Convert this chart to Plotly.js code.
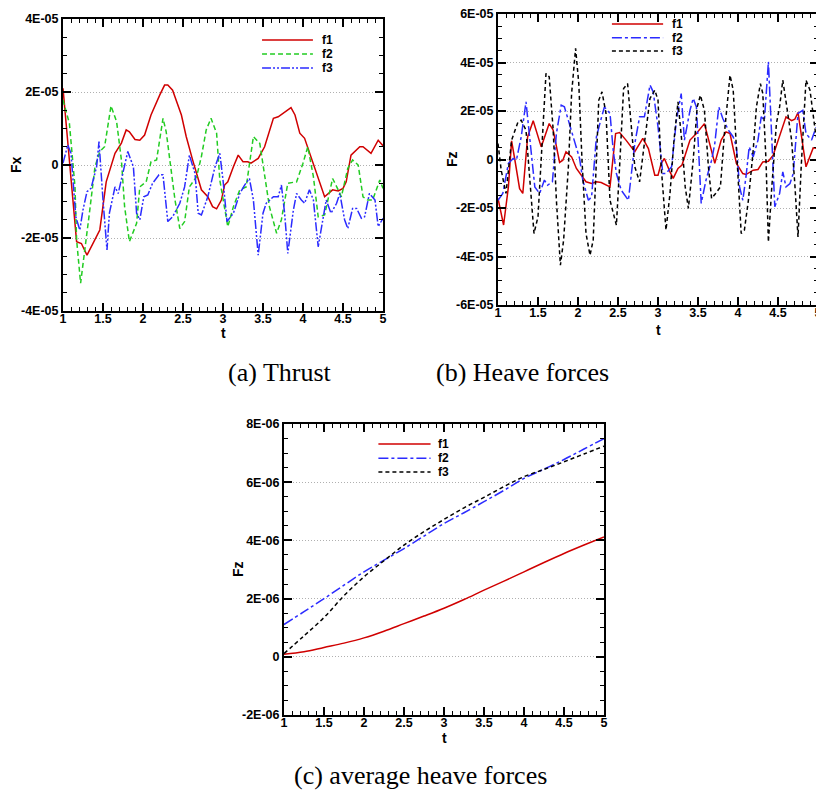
<!DOCTYPE html>
<html>
<head>
<meta charset="utf-8">
<script src="https://cdn.plot.ly/plotly-3.0.1.min.js"></script>
<style>
html,body{margin:0;padding:0;overflow:hidden;background:#fff;}
#chart{width:830px;height:796px;}
</style>
</head>
<body>
<div id="chart"></div>
<script>
// ---------- (a) Thrust ----------
const aT1 = [1,1.17,1.23,1.3,1.46,1.54,1.65,1.73,1.79,1.83,1.9,1.96,2.02,2.1,2.21,2.27,2.31,2.37,2.48,2.54,2.62,2.73,2.81,2.87,2.92,2.98,3.02,3.06,3.13,3.19,3.25,3.31,3.35,3.44,3.52,3.63,3.69,3.75,3.85,3.9,3.96,4.02,4.1,4.19,4.27,4.37,4.44,4.5,4.54,4.6,4.71,4.75,4.85,4.94,5];
const aF1 = [2.1e-5,-2.1e-5,-2.15e-5,-2.47e-5,-1.78e-5,-0.46e-5,0.32e-5,0.6e-5,0.96e-5,0.91e-5,0.7e-5,0.68e-5,0.82e-5,1.37e-5,1.92e-5,2.19e-5,2.19e-5,2.05e-5,1.37e-5,0.78e-5,0.14e-5,-0.68e-5,-0.87e-5,-1.14e-5,-1.2e-5,-0.96e-5,-0.55e-5,-0.46e-5,-0.05e-5,0.27e-5,0.09e-5,0.09e-5,0.05e-5,0.18e-5,0.5e-5,1.28e-5,1.32e-5,1.42e-5,1.57e-5,1.37e-5,0.87e-5,0.73e-5,0.23e-5,-0.32e-5,-0.87e-5,-0.68e-5,-0.71e-5,-0.64e-5,-0.46e-5,0.27e-5,0.5e-5,0.5e-5,0.32e-5,0.68e-5,0.53e-5];
const aT2 = [1,1.08,1.15,1.17,1.22,1.27,1.33,1.4,1.46,1.52,1.6,1.67,1.73,1.77,1.83,1.92,1.96,2.04,2.1,2.17,2.25,2.29,2.35,2.4,2.46,2.52,2.58,2.67,2.73,2.79,2.85,2.92,2.96,3.06,3.13,3.21,3.29,3.38,3.46,3.52,3.58,3.67,3.73,3.81,3.92,4.0,4.06,4.13,4.19,4.27,4.37,4.44,4.48,4.56,4.62,4.69,4.75,4.81,4.87,4.96,5];
const aF2 = [1.78e-5,1.14e-5,-0.6e-5,-2.05e-5,-3.24e-5,-2.42e-5,-1.32e-5,-0.05e-5,0.37e-5,0.5e-5,1.62e-5,1.19e-5,0.14e-5,-1.14e-5,-2.1e-5,-1.6e-5,-0.6e-5,-0.46e-5,0.09e-5,0.14e-5,1.28e-5,0.91e-5,-0.05e-5,-0.96e-5,-1.74e-5,-1.55e-5,-0.6e-5,-0.32e-5,0.23e-5,0.96e-5,1.28e-5,0.87e-5,-0.41e-5,-1.69e-5,-1.14e-5,-0.68e-5,-0.6e-5,0.78e-5,0.59e-5,-0.23e-5,-1.14e-5,-1.87e-5,-1.5e-5,-0.5e-5,-0.46e-5,0.05e-5,0.5e-5,-0.32e-5,-1.42e-5,-1.37e-5,-0.37e-5,-0.68e-5,-0.87e-5,-0.09e-5,0.14e-5,0,-0.87e-5,-0.96e-5,-0.96e-5,-0.41e-5,-0.64e-5];
const aT3 = [1,1.06,1.1,1.16,1.21,1.25,1.3,1.35,1.42,1.45,1.5,1.55,1.58,1.65,1.69,1.75,1.81,1.88,1.92,1.96,2.01,2.06,2.12,2.2,2.25,2.31,2.37,2.46,2.52,2.58,2.65,2.69,2.73,2.81,2.9,2.96,3.0,3.05,3.13,3.21,3.27,3.33,3.38,3.44,3.5,3.54,3.63,3.69,3.73,3.77,3.81,3.88,3.92,3.98,4.02,4.08,4.13,4.19,4.25,4.29,4.35,4.42,4.46,4.52,4.56,4.62,4.67,4.73,4.77,4.83,4.9,4.94,5];
const aF3 = [0.05e-5,0.55e-5,0.32e-5,-1.42e-5,-1.78e-5,-1.23e-5,-0.73e-5,-0.64e-5,-0.05e-5,0.64e-5,-0.96e-5,-2.33e-5,-1.32e-5,-0.6e-5,-0.78e-5,-0.23e-5,0.37e-5,-0.05e-5,-1.32e-5,-1.5e-5,-0.87e-5,-0.82e-5,-0.5e-5,-0.27e-5,-0.27e-5,-1.55e-5,-1.42e-5,-1.05e-5,-0.6e-5,0.27e-5,-0.23e-5,-1.32e-5,-1.37e-5,-0.87e-5,-0.05e-5,0.32e-5,-0.41e-5,-1.55e-5,-1.32e-5,-0.78e-5,-0.55e-5,-0.37e-5,-0.96e-5,-2.47e-5,-1.32e-5,-1.05e-5,-0.87e-5,-0.87e-5,-0.55e-5,-1.32e-5,-2.42e-5,-1.23e-5,-0.78e-5,-0.96e-5,-1.05e-5,-0.68e-5,-0.96e-5,-2.24e-5,-1.5e-5,-0.96e-5,-1.32e-5,-1.05e-5,-0.78e-5,-1.5e-5,-1.74e-5,-1.19e-5,-1.19e-5,-1.46e-5,-1.42e-5,-0.78e-5,-0.96e-5,-1.69e-5,-1.46e-5];

// ---------- (b) Heave forces ----------
const bT1 = [1,1.07,1.13,1.17,1.21,1.27,1.31,1.37,1.44,1.54,1.64,1.69,1.77,1.81,1.85,1.92,1.98,2.1,2.17,2.23,2.29,2.4,2.47,2.52,2.6,2.71,2.81,2.88,2.96,3.0,3.04,3.08,3.15,3.19,3.25,3.3,3.4,3.48,3.58,3.71,3.79,3.85,3.9,3.98,4.06,4.1,4.19,4.25,4.31,4.38,4.44,4.52,4.6,4.67,4.71,4.75,4.85,4.94,5];
const bF1 = [-1.6e-5,-2.7e-5,-1.13e-5,0.77e-5,0,-1.2e-5,-1.4e-5,0.93e-5,1.6e-5,0.52e-5,1.48e-5,1.21e-5,-0.12e-5,-0.03e-5,0.32e-5,0.11e-5,-0.37e-5,-0.92e-5,-0.99e-5,-0.92e-5,-0.95e-5,-1.13e-5,1.07e-5,1.11e-5,0.8e-5,0.32e-5,0.87e-5,0.45e-5,-0.65e-5,-0.65e-5,-0.16e-5,0.04e-5,-0.51e-5,-0.78e-5,-0.37e-5,-0.23e-5,0.8e-5,1.07e-5,1.48e-5,-0.16e-5,0.8e-5,1.14e-5,1.07e-5,-0.16e-5,-0.58e-5,-0.62e-5,-0.44e-5,-0.41e-5,-0.1e-5,-0.07e-5,0.18e-5,0.93e-5,1.76e-5,1.6e-5,1.66e-5,1.94e-5,-0.3e-5,0.48e-5,0.45e-5];
const bT2 = [1,1.06,1.13,1.19,1.23,1.29,1.35,1.42,1.46,1.52,1.58,1.62,1.68,1.73,1.79,1.83,1.92,2.02,2.06,2.13,2.17,2.23,2.29,2.33,2.4,2.44,2.48,2.54,2.63,2.71,2.77,2.83,2.9,2.94,3.0,3.06,3.1,3.17,3.23,3.29,3.33,3.4,3.44,3.48,3.52,3.54,3.6,3.67,3.71,3.76,3.81,3.88,3.94,3.98,4.02,4.06,4.1,4.14,4.19,4.25,4.29,4.33,4.38,4.42,4.46,4.52,4.56,4.6,4.65,4.69,4.75,4.81,4.85,4.92,4.97,5];
const bF2 = [-1.68e-5,-1.4e-5,-0.16e-5,0.04e-5,-0.03e-5,0.93e-5,2.38e-5,-0.03e-5,-1.13e-5,-1.4e-5,-0.85e-5,-1.06e-5,-0.92e-5,1.07e-5,2.24e-5,2.17e-5,1.14e-5,0.04e-5,-0.85e-5,-1.68e-5,-1.54e-5,0.93e-5,1.69e-5,2.17e-5,1.9e-5,0.38e-5,-0.58e-5,-1.26e-5,-1.68e-5,0.66e-5,1.76e-5,1.76e-5,3.07e-5,2.79e-5,1.35e-5,-0.58e-5,-0.58e-5,-0.3e-5,1.62e-5,2.72e-5,0.8e-5,2.03e-5,2.52e-5,2.17e-5,-0.44e-5,-1.81e-5,-0.85e-5,-0.03e-5,0.66e-5,2.17e-5,1.69e-5,1.21e-5,0.93e-5,0.52e-5,-1.13e-5,-1.68e-5,-0.71e-5,0.52e-5,0.11e-5,0.8e-5,1.76e-5,1.62e-5,4.03e-5,1.07e-5,-1.95e-5,-1.4e-5,-0.51e-5,-1.13e-5,-0.99e-5,-0.58e-5,1.9e-5,2.03e-5,1.07e-5,0.8e-5,1.28e-5,1.4e-5];
const bT3 = [1,1.04,1.1,1.17,1.25,1.29,1.35,1.41,1.45,1.5,1.54,1.6,1.64,1.69,1.73,1.78,1.82,1.88,1.92,1.97,2.01,2.05,2.1,2.15,2.19,2.23,2.26,2.3,2.35,2.4,2.48,2.52,2.57,2.62,2.66,2.71,2.77,2.83,2.9,2.96,3.0,3.04,3.1,3.15,3.2,3.25,3.3,3.34,3.38,3.44,3.49,3.53,3.58,3.63,3.67,3.72,3.78,3.83,3.9,3.94,3.98,4.04,4.08,4.13,4.19,4.23,4.28,4.31,4.35,4.38,4.42,4.48,4.52,4.56,4.61,4.67,4.71,4.75,4.79,4.85,4.9,4.94,4.97,5];
const bF3 = [0.66e-5,-0.44e-5,-1.4e-5,0.8e-5,1.55e-5,1.62e-5,1.21e-5,-1.13e-5,-3.05e-5,-2.36e-5,-0.03e-5,3.55e-5,3.41e-5,1.21e-5,-1.68e-5,-4.36e-5,-3.33e-5,-0.3e-5,2.72e-5,4.58e-5,3.13e-5,-0.03e-5,-3.05e-5,-3.95e-5,-3.33e-5,-0.03e-5,2.45e-5,2.79e-5,1.9e-5,-1.68e-5,-2.71e-5,-0.3e-5,2.93e-5,3.13e-5,1.48e-5,-0.3e-5,-0.92e-5,0.66e-5,2.52e-5,2.86e-5,2.45e-5,-0.3e-5,-2.91e-5,-1.4e-5,0.8e-5,2.38e-5,0.66e-5,-1.13e-5,-2.02e-5,-0.03e-5,2.17e-5,2.65e-5,2.03e-5,-0.3e-5,-1.61e-5,-1.4e-5,-1.13e-5,1.07e-5,3.48e-5,2.86e-5,0.38e-5,-3.05e-5,-2.91e-5,-1.68e-5,0.38e-5,2.17e-5,3.13e-5,2.72e-5,-0.03e-5,-3.4e-5,-1.26e-5,1.48e-5,2.17e-5,3.27e-5,2.17e-5,0.8e-5,-0.99e-5,-3.19e-5,-0.3e-5,3.27e-5,2.86e-5,1.76e-5,1.07e-5,0.7e-5];

// ---------- (c) average heave forces ----------
const cT = [1,1.25,1.5,1.75,2,2.25,2.5,2.75,3,3.25,3.5,3.75,4,4.25,4.5,4.75,5];
const cF1 = [0.09e-6,0.17e-6,0.32e-6,0.47e-6,0.65e-6,0.88e-6,1.14e-6,1.4e-6,1.67e-6,1.97e-6,2.29e-6,2.6e-6,2.92e-6,3.24e-6,3.55e-6,3.84e-6,4.12e-6];
const cF2 = [1.11e-6,1.55e-6,2.0e-6,2.46e-6,2.92e-6,3.32e-6,3.72e-6,4.15e-6,4.58e-6,4.95e-6,5.33e-6,5.72e-6,6.13e-6,6.45e-6,6.78e-6,7.14e-6,7.5e-6];
const cF3 = [0.11e-6,0.72e-6,1.35e-6,2.1e-6,2.75e-6,3.3e-6,3.84e-6,4.3e-6,4.72e-6,5.12e-6,5.48e-6,5.85e-6,6.19e-6,6.44e-6,6.7e-6,6.97e-6,7.24e-6];

// ---------- labels ----------
const seriesNames = ['f1','f2','f3'];
const aYTickVals = [-4e-5,-2e-5,0,2e-5,4e-5];
const aYTickText = ['-4E-05','-2E-05','0','2E-05','4E-05'];
const bYTickVals = [-6e-5,-4e-5,-2e-5,0,2e-5,4e-5,6e-5];
const bYTickText = ['-6E-05','-4E-05','-2E-05','0','2E-05','4E-05','6E-05'];
const cYTickVals = [-2e-6,0,2e-6,4e-6,6e-6,8e-6];
const cYTickText = ['-2E-06','0','2E-06','4E-06','6E-06','8E-06'];
const captions = ['(a) Thrust','(b) Heave forces','(c) average heave forces'];
const xTitle = 't';
const yTitles = ['Fx','Fz','Fz'];

// ---------- styles ----------
const RED='#d00000', GREEN='#22cc22', BLUE='#2b2bff', BLACK='#000000';
const styleA = [{color:RED,dash:'solid'},{color:GREEN,dash:'5px,3px'},{color:BLUE,dash:'9px,2px,2px,2px,2px,2px'}];
const styleB = [{color:RED,dash:'solid'},{color:BLUE,dash:'10px,3px,3px,3px'},{color:BLACK,dash:'4px,3px'}];

const W=830, H=796;
const bold = {family:'Liberation Sans, Arial, sans-serif', size:12.5, color:'#000', weight:'bold'};
const legFont = {family:'Liberation Sans, Arial, sans-serif', size:12, color:'#000', weight:'bold'};
const titleFont = {family:'Liberation Sans, Arial, sans-serif', size:14, color:'#000', weight:'bold'};
const TICKC = '#000000';

function tr(x,y,name,st,xa,ya,shape){
  return {x:x,y:y,name:name,type:'scatter',mode:'lines',xaxis:xa,yaxis:ya,showlegend:false,
    line:{color:st.color,dash:st.dash,width:1.5,shape:shape||'linear'}};
}
const data = [
  tr(aT1,aF1,seriesNames[0],styleA[0],'x','y'),
  tr(aT2,aF2,seriesNames[1],styleA[1],'x','y'),
  tr(aT3,aF3,seriesNames[2],styleA[2],'x','y'),
  tr(bT1,bF1,seriesNames[0],styleB[0],'x2','y2'),
  tr(bT2,bF2,seriesNames[1],styleB[1],'x2','y2'),
  tr(bT3,bF3,seriesNames[2],styleB[2],'x2','y2'),
  tr(cT,cF1,seriesNames[0],styleB[0],'x3','y3','spline'),
  tr(cT,cF2,seriesNames[1],styleB[1],'x3','y3','spline'),
  tr(cT,cF3,seriesNames[2],styleB[2],'x3','y3','spline')
];

function px2x(a,b){return [a/W,b/W];}
function px2y(top,bot){return [1-bot/H,1-top/H];}

function xax(dom,anchor){
  return {domain:dom,anchor:anchor,range:[1,5],tickmode:'linear',tick0:1,dtick:0.5,
    ticks:'inside',ticklen:8,tickwidth:2,tickcolor:TICKC,showline:true,linewidth:2,linecolor:'#000',mirror:'ticks',
    minor:{tickmode:'linear',tick0:1,dtick:0.1,ticks:'inside',ticklen:4,tickwidth:1,tickcolor:TICKC,showgrid:false},
    showgrid:false,zeroline:false,tickfont:bold,ticklabelstandoff:-5};
}
function yax(dom,range,tv,tt,minorD,anchor){
  return {domain:dom,anchor:anchor,range:range,tickmode:'array',tickvals:tv,ticktext:tt,
    ticks:'inside',ticklen:8,tickwidth:2,tickcolor:TICKC,showline:true,linewidth:2,linecolor:'#000',mirror:'ticks',
    minor:{tickmode:'linear',tick0:0,dtick:minorD,ticks:'inside',ticklen:4,tickwidth:1,tickcolor:TICKC,showgrid:false},
    showgrid:true,gridcolor:'#b0b0b0',griddash:'1px,2px',gridwidth:1,zeroline:false,tickfont:bold};
}

const layout = {
  width:W,height:H,margin:{l:0,r:0,t:0,b:0},paper_bgcolor:'#fff',plot_bgcolor:'rgba(0,0,0,0)',showlegend:false,
  xaxis: xax(px2x(63,383),'y'),
  yaxis: yax(px2y(19,311),[-4e-5,4e-5],aYTickVals,aYTickText,0.5e-5,'x'),
  xaxis2: xax(px2x(498,818),'y2'),
  yaxis2: yax(px2y(14,305),[-6e-5,6e-5],bYTickVals,bYTickText,0.5e-5,'x2'),
  xaxis3: xax(px2x(284,604),'y3'),
  yaxis3: yax(px2y(424,715),[-2e-6,8e-6],cYTickVals,cYTickText,0.5e-6,'x3'),
  shapes:[], annotations:[]
};

// axis titles (placed beside each panel)
const xTitlePos = [[223,333],[658,330],[444,738]];
const yTitlePos = [[16,165],[452,159],[238,569]];
for(let i=0;i<3;i++){
  layout.annotations.push({xref:'paper',yref:'paper',x:xTitlePos[i][0]/W,y:1-xTitlePos[i][1]/H,xanchor:'center',yanchor:'middle',
    text:xTitle,showarrow:false,font:titleFont});
  layout.annotations.push({xref:'paper',yref:'paper',x:yTitlePos[i][0]/W,y:1-yTitlePos[i][1]/H,xanchor:'center',yanchor:'middle',
    text:yTitles[i],textangle:-90,showarrow:false,font:titleFont});
}

// manual legends (sample line + label) inside each panel
const legendBoxes = [
  {xr:'x domain', yr:'y domain', x0:0.622, x1:0.781, xt:0.803, ys:[0.928,0.880,0.832], st:styleA},
  {xr:'x2 domain', yr:'y2 domain', x0:0.356, x1:0.516, xt:0.536, ys:[0.966,0.918,0.873], st:styleB},
  {xr:'x3 domain', yr:'y3 domain', x0:0.295, x1:0.458, xt:0.476, ys:[0.931,0.882,0.835], st:styleB}
];
legendBoxes.forEach(lb=>{
  seriesNames.forEach((nm,i)=>{
    layout.shapes.push({type:'line',xref:lb.xr,yref:lb.yr,x0:lb.x0,x1:lb.x1,y0:lb.ys[i],y1:lb.ys[i],
      line:{color:lb.st[i].color,dash:lb.st[i].dash,width:1.5}});
    layout.annotations.push({xref:lb.xr,yref:lb.yr,x:lb.xt,y:lb.ys[i],xanchor:'left',yanchor:'middle',
      text:nm,showarrow:false,font:legFont});
  });
});

// captions
const capFont = {family:'Liberation Serif, Times New Roman, serif', size:26, color:'#000'};
const capPos = [[279.5,372],[522.5,372],[420.5,775]];
captions.forEach((c,i)=>{
  layout.annotations.push({xref:'paper',yref:'paper',x:capPos[i][0]/W,y:1-capPos[i][1]/H,xanchor:'center',yanchor:'middle',
    text:c,showarrow:false,font:capFont});
});

Plotly.newPlot('chart',data,layout,{displayModeBar:false});
</script>
</body>
</html>
